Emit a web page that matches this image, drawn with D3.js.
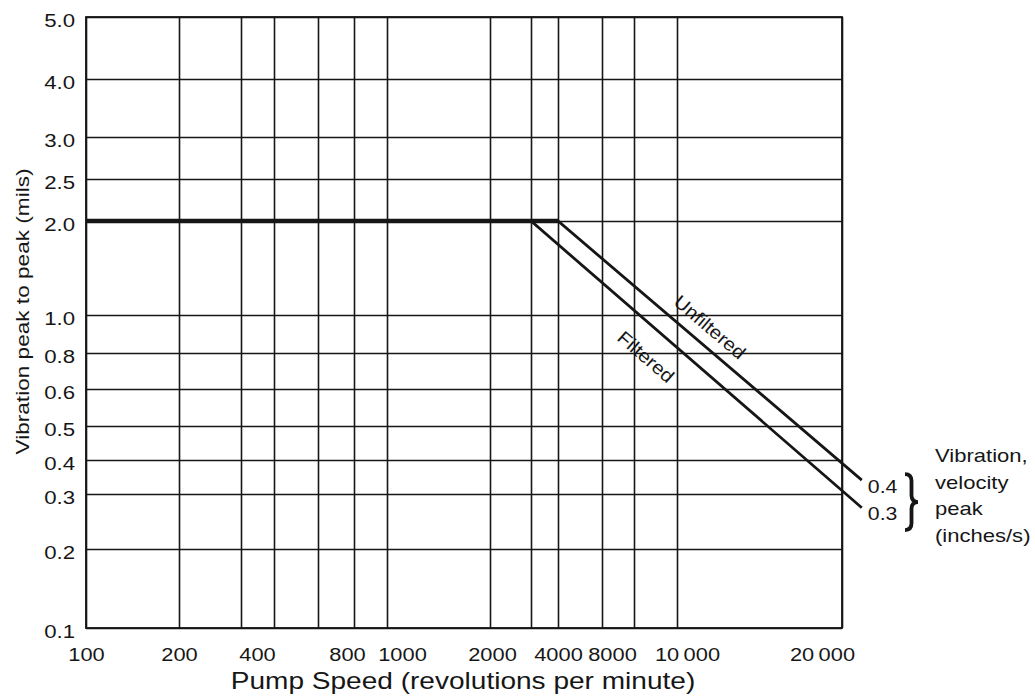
<!DOCTYPE html>
<html>
<head>
<meta charset="utf-8">
<script src="https://cdn.jsdelivr.net/npm/d3@7"></script>
<style>
body{margin:0;background:#fff;}
svg text{font-family:"Liberation Sans",Arial,Helvetica,sans-serif;fill:#161616;}
</style>
</head>
<body>
<svg id="chart" width="1035" height="698"></svg>
<script>
// pump speed (rpm): vertical grid lines and labelled ticks
const xGrid=[100,200,300,400,600,800,1000,2000,3000,4000,6000,8000,10000,20000];
const xLabels=[100,200,400,800,1000,2000,4000,8000,10000,20000];
// vibration peak to peak (mils)
const yTicks=[5.0,4.0,3.0,2.5,2.0,1.0,0.8,0.6,0.5,0.4,0.3,0.2,0.1];

// limit lines as [rpm, mils]
const unfiltered=[[100,2.0],[4000,2.0],[21200,0.341]];
const filtered=[[100,2.0],[3000,2.0],[21200,0.275]];
const seriesNames=["Unfiltered","Filtered"];
const velocities=["0.4","0.3"];            // inches/s peak at line ends
const nameLabelAt=[[12000,0.937],[8560,0.78]];
const noteLines=["Vibration,","velocity","peak","(inches/s)"];

const width=1035,height=698;
const margin={top:17,left:86,right:193,bottom:70};
const pw=width-margin.left-margin.right;
const ph=height-margin.top-margin.bottom;
const FONT='"Liberation Sans",Arial,Helvetica,sans-serif';
const INK="#161616";

// the printed chart is hand spaced, so both scales are piecewise
const xStops=[0,93,155,188,232,268,301,404,445,472,516,548,591,pw];
const yStops=[0,62,120,162,204,298,336,372,409,443,477,532,ph];
const x=d3.scaleLinear().domain(xGrid).range(xStops);
const y=d3.scaleLinear().domain(yTicks).range(yStops);

// label shifts as printed, relative to the grid line of the same value
const xNudge={400:-17,800:-7,1000:15,2000:2,8000:-22,10000:10,20000:-20};

const fmtRpm=v=>v>=10000?d3.format(",")(v).replace(",","\u2009"):String(v);

// wide helvetica look: stretch text along its baseline
function stretch(sel,s){
  sel.each(function(){
    const t=d3.select(this);
    const tx=+t.attr("x")||0, ty=+t.attr("y")||0;
    t.attr("x",null).attr("y",null)
     .attr("transform",`translate(${tx},${ty}) scale(${s},1)`);
  });
}

const svg=d3.select("#chart");
svg.append("rect").attr("width",width).attr("height",height).attr("fill","#fff");
const g=svg.append("g").attr("transform",`translate(${margin.left},${margin.top})`);

// vertical grid
g.append("g")
  .attr("transform",`translate(0,${ph})`)
  .call(d3.axisBottom(x).tickValues(xGrid).tickSize(-ph).tickFormat(""))
  .call(a=>a.select(".domain").remove())
  .call(a=>a.selectAll("line").attr("stroke",INK).attr("stroke-width",1.6));

// horizontal grid + y labels
const gy=g.append("g")
  .call(d3.axisLeft(y).tickValues(yTicks).tickSize(-pw).tickPadding(11).tickFormat(d3.format(".1f")))
  .attr("font-size",19).attr("font-family",FONT)
  .call(a=>a.select(".domain").remove())
  .call(a=>a.selectAll("line").attr("stroke",INK).attr("stroke-width",1.6));
gy.selectAll("text").attr("dy","0.5em");
stretch(gy.selectAll("text"),1.17);

// x labels
const gx=g.append("g")
  .attr("transform",`translate(0,${ph})`)
  .call(d3.axisBottom(x).tickValues(xLabels).tickSize(0).tickPadding(19.5).tickFormat(fmtRpm))
  .attr("font-size",19).attr("font-family",FONT)
  .call(a=>a.select(".domain").remove());
gx.selectAll("text").attr("x",d=>xNudge[d]||0);
stretch(gx.selectAll("text"),1.15);

// frame
g.append("rect").attr("width",pw).attr("height",ph)
  .attr("fill","none").attr("stroke",INK).attr("stroke-width",1.8);

// limit lines
const line=d3.line().x(d=>x(d[0])).y(d=>y(d[1]));
const series=[unfiltered,filtered];
g.selectAll(".limit").data(series).join("path")
  .attr("class","limit")
  .attr("d",line)
  .attr("fill","none").attr("stroke",INK).attr("stroke-width",2.8);
// common 2.0 mils plateau is printed heavier
g.append("path").attr("d",line(unfiltered.slice(0,2)))
  .attr("fill","none").attr("stroke",INK).attr("stroke-width",4.5);

// names along the sloped parts
series.forEach((s,i)=>{
  const a=s[1],b=s[2];
  const ang=Math.atan2(y(b[1])-y(a[1]),x(b[0])-x(a[0]))*180/Math.PI;
  const p=nameLabelAt[i];
  g.append("text")
    .attr("transform",`translate(${x(p[0])},${y(p[1])}) rotate(${ang}) scale(1.1,1)`)
    .attr("text-anchor","middle").attr("dominant-baseline","central")
    .attr("font-size",18.5)
    .text(seriesNames[i]);
});

// velocity values at line ends
const ends=series.map(s=>s[s.length-1]);
const vel=g.selectAll(".vel").data(ends).join("text")
  .attr("class","vel")
  .attr("x",d=>x(d[0])+6).attr("y",d=>y(d[1])+12.5)
  .attr("font-size",19)
  .text((d,i)=>velocities[i]);
stretch(vel,1.12);

// brace + note
const bh=56,bw=13;
g.append("path")
  .attr("transform",`translate(${pw+63},${y(ends[0][1])-6})`)
  .attr("d",`M0,0 Q${bw/2},0 ${bw/2},${bh*0.12} L${bw/2},${bh*0.38} Q${bw/2},${bh/2} ${bw},${bh/2}
             Q${bw/2},${bh/2} ${bw/2},${bh*0.62} L${bw/2},${bh*0.88} Q${bw/2},${bh} 0,${bh}`)
  .attr("fill","none").attr("stroke",INK).attr("stroke-width",3.8);

const note=g.append("text")
  .attr("transform",`translate(${pw+93},${y(ends[0][1])-18}) scale(1.16,1)`)
  .attr("font-size",19);
note.selectAll("tspan").data(noteLines).join("tspan")
  .attr("x",0).attr("dy",(d,i)=>i?26.5:0).text(d=>d);

// axis titles
svg.append("text")
  .attr("transform",`translate(22,${margin.top+ph/2-11}) rotate(-90) scale(1.19,1)`)
  .attr("text-anchor","middle").attr("dominant-baseline","central")
  .attr("font-size",19)
  .text("Vibration peak to peak (mils)");

svg.append("text")
  .attr("transform",`translate(463,689) scale(1.22,1)`)
  .attr("text-anchor","middle")
  .attr("font-size",23)
  .text("Pump Speed (revolutions per minute)");
</script>
</body>
</html>
